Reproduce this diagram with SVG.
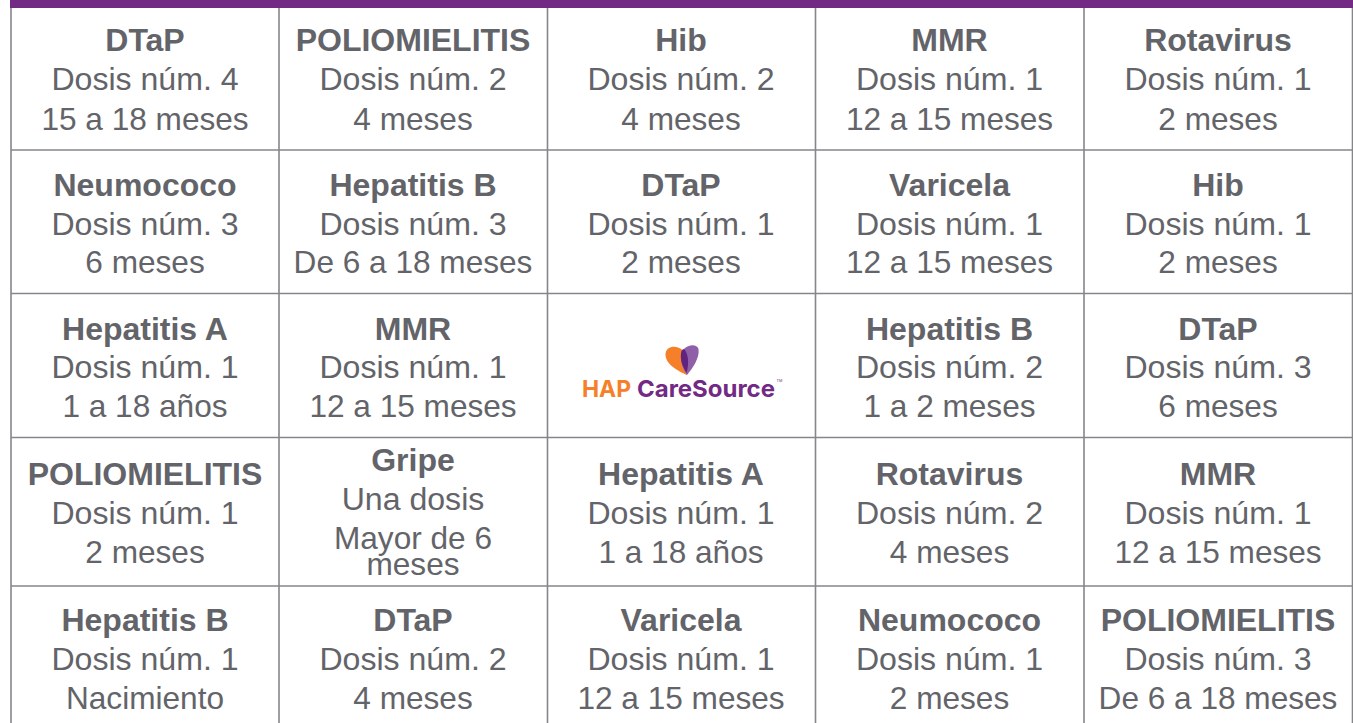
<svg xmlns="http://www.w3.org/2000/svg" width="1353" height="723" viewBox="0 0 1353 723">
<style>
text{font-family:"Liberation Sans",Arial,sans-serif;fill:#636469;text-anchor:middle}
.t{font-size:32px;font-weight:700}
.d{font-size:32.100px}
.m{font-size:31.600px}
.g line{stroke:#85868a;stroke-width:1.6}
</style>
<rect width="1353" height="723" fill="#fff"/>
<rect x="10" y="0" width="1343" height="8" fill="#722a84"/>
<g id="grid" class="g">
<line x1="11" y1="8" x2="11" y2="723"/>
<line x1="279" y1="8" x2="279" y2="723"/>
<line x1="547.500" y1="8" x2="547.500" y2="723"/>
<line x1="815.500" y1="8" x2="815.500" y2="723"/>
<line x1="1084" y1="8" x2="1084" y2="723"/>
<line x1="1352.500" y1="8" x2="1352.500" y2="723"/>
<line x1="11" y1="150" x2="1353" y2="150"/>
<line x1="11" y1="293.500" x2="1353" y2="293.500"/>
<line x1="11" y1="437.500" x2="1353" y2="437.500"/>
<line x1="11" y1="586" x2="1353" y2="586"/>
</g>
<g id="c11"><text class="t" x="145" y="51">DTaP</text><text class="d" x="145" y="90">Dosis núm. 4</text><text class="m" x="145" y="129.500">15 a 18 meses</text></g>
<g id="c12"><text class="t" x="413" y="51">POLIOMIELITIS</text><text class="d" x="413" y="90">Dosis núm. 2</text><text class="m" x="413" y="129.500">4 meses</text></g>
<g id="c13"><text class="t" x="681" y="51">Hib</text><text class="d" x="681" y="90">Dosis núm. 2</text><text class="m" x="681" y="129.500">4 meses</text></g>
<g id="c14"><text class="t" x="949.500" y="51">MMR</text><text class="d" x="949.500" y="90">Dosis núm. 1</text><text class="m" x="949.500" y="129.500">12 a 15 meses</text></g>
<g id="c15"><text class="t" x="1218" y="51">Rotavirus</text><text class="d" x="1218" y="90">Dosis núm. 1</text><text class="m" x="1218" y="129.500">2 meses</text></g>
<g id="c21"><text class="t" x="145" y="195.500">Neumococo</text><text class="d" x="145" y="234.500">Dosis núm. 3</text><text class="m" x="145" y="273">6 meses</text></g>
<g id="c22"><text class="t" x="413" y="195.500">Hepatitis B</text><text class="d" x="413" y="234.500">Dosis núm. 3</text><text class="m" x="413" y="273">De 6 a 18 meses</text></g>
<g id="c23"><text class="t" x="681" y="195.500">DTaP</text><text class="d" x="681" y="234.500">Dosis núm. 1</text><text class="m" x="681" y="273">2 meses</text></g>
<g id="c24"><text class="t" x="949.500" y="195.500">Varicela</text><text class="d" x="949.500" y="234.500">Dosis núm. 1</text><text class="m" x="949.500" y="273">12 a 15 meses</text></g>
<g id="c25"><text class="t" x="1218" y="195.500">Hib</text><text class="d" x="1218" y="234.500">Dosis núm. 1</text><text class="m" x="1218" y="273">2 meses</text></g>
<g id="c31"><text class="t" x="145" y="339.500">Hepatitis A</text><text class="d" x="145" y="378">Dosis núm. 1</text><text class="m" x="145" y="417">1 a 18 años</text></g>
<g id="c32"><text class="t" x="413" y="339.500">MMR</text><text class="d" x="413" y="378">Dosis núm. 1</text><text class="m" x="413" y="417">12 a 15 meses</text></g>
<g id="c33">
<path d="M687 375C678 371 665 364 665.500 354C666 348 672 345.500 678 347.500C686 350 689 358 687 375Z" fill="#f68029"/>
<path d="M687 375C680 365 679 353 684 349C689 344 697 344 698.500 349C700 358 692 369 687 375Z" fill="#8f5fa8"/>
<path d="M686.500 373C680 363 680 354 682 350L684 349C688 353 689.500 362 686.500 373Z" fill="#5f2380"/>
<text x="606.500" y="397" style="font-family:Inter,'Liberation Sans',sans-serif;font-size:23.500px;font-weight:700;fill:#f68029" textLength="49" lengthAdjust="spacingAndGlyphs">HAP</text>
<text x="706" y="397" style="font-family:Inter,'Liberation Sans',sans-serif;font-size:23.500px;font-weight:700;fill:#722a84" textLength="138" lengthAdjust="spacingAndGlyphs">CareSource</text>
<text x="779.500" y="382" style="font-size:4px;fill:#722a84">TM</text>
</g>
<g id="c34"><text class="t" x="949.500" y="339.500">Hepatitis B</text><text class="d" x="949.500" y="378">Dosis núm. 2</text><text class="m" x="949.500" y="417">1 a 2 meses</text></g>
<g id="c35"><text class="t" x="1218" y="339.500">DTaP</text><text class="d" x="1218" y="378">Dosis núm. 3</text><text class="m" x="1218" y="417">6 meses</text></g>
<g id="c41"><text class="t" x="145" y="485">POLIOMIELITIS</text><text class="d" x="145" y="524">Dosis núm. 1</text><text class="m" x="145" y="563">2 meses</text></g>
<g id="c42"><text class="t" x="413" y="471">Gripe</text><text class="d" x="413" y="510">Una dosis</text><text class="m" x="413" y="549">Mayor de 6</text><text class="m" x="413" y="575">meses</text></g>
<g id="c43"><text class="t" x="681" y="485">Hepatitis A</text><text class="d" x="681" y="524">Dosis núm. 1</text><text class="m" x="681" y="563">1 a 18 años</text></g>
<g id="c44"><text class="t" x="949.500" y="485">Rotavirus</text><text class="d" x="949.500" y="524">Dosis núm. 2</text><text class="m" x="949.500" y="563">4 meses</text></g>
<g id="c45"><text class="t" x="1218" y="485">MMR</text><text class="d" x="1218" y="524">Dosis núm. 1</text><text class="m" x="1218" y="563">12 a 15 meses</text></g>
<g id="c51"><text class="t" x="145" y="631">Hepatitis B</text><text class="d" x="145" y="670">Dosis núm. 1</text><text class="m" x="145" y="709">Nacimiento</text></g>
<g id="c52"><text class="t" x="413" y="631">DTaP</text><text class="d" x="413" y="670">Dosis núm. 2</text><text class="m" x="413" y="709">4 meses</text></g>
<g id="c53"><text class="t" x="681" y="631">Varicela</text><text class="d" x="681" y="670">Dosis núm. 1</text><text class="m" x="681" y="709">12 a 15 meses</text></g>
<g id="c54"><text class="t" x="949.500" y="631">Neumococo</text><text class="d" x="949.500" y="670">Dosis núm. 1</text><text class="m" x="949.500" y="709">2 meses</text></g>
<g id="c55"><text class="t" x="1218" y="631">POLIOMIELITIS</text><text class="d" x="1218" y="670">Dosis núm. 3</text><text class="m" x="1218" y="709">De 6 a 18 meses</text></g>
</svg>
